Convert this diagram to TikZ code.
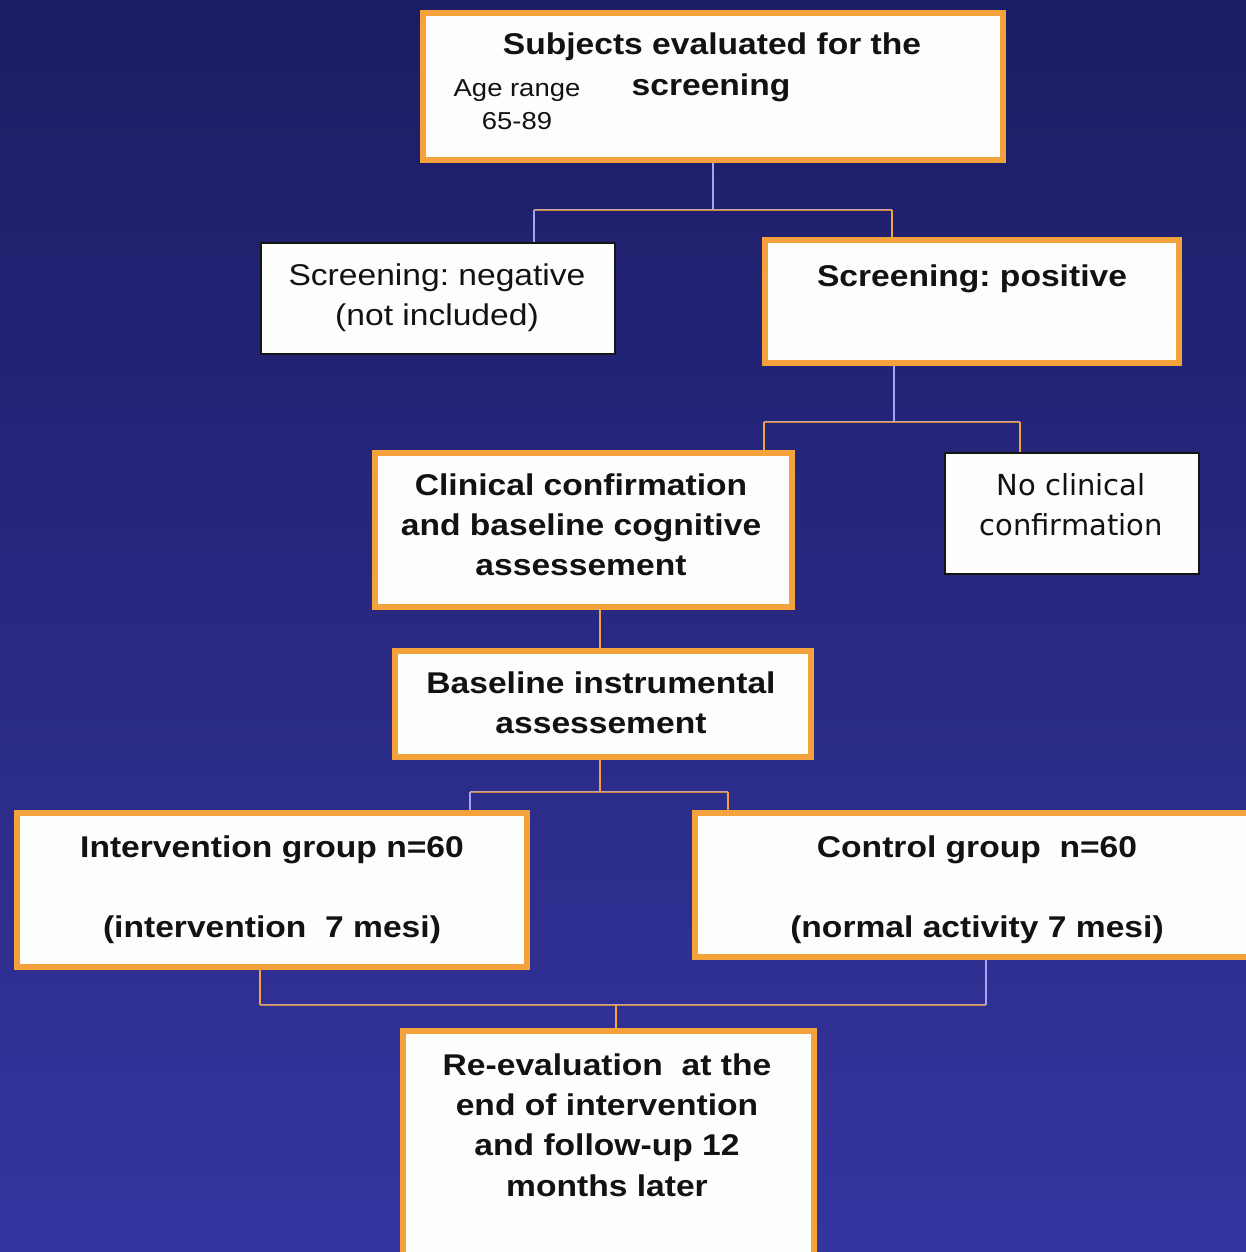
\documentclass[tikz,border=0pt]{standalone}
\usepackage{fontspec}
\setmainfont{Liberation Sans}[FakeStretch=1.12]
\newfontfamily\tahfont{DejaVu Sans}
\frenchspacing
\definecolor{bgtop}{HTML}{1C1C64}
\definecolor{bgbot}{HTML}{3535A0}
\definecolor{orangeC}{HTML}{F4A23C}
\definecolor{lavC}{HTML}{A4A4F2}
\definecolor{boxfill}{HTML}{FDFDFB}
\definecolor{thinC}{HTML}{151515}
\definecolor{txtC}{HTML}{121212}
\tikzset{
  obox/.style={draw=orangeC, line width=6pt, fill=boxfill, rectangle, inner sep=0pt},
  tbox/.style={draw=thinC, line width=2pt, fill=boxfill, rectangle, inner sep=0pt},
  txt/.style={anchor=base, inner sep=0pt, text=txtC},
  bigb/.style={font=\fontsize{30pt}{40pt}\selectfont\bfseries},
  reg/.style={font=\fontsize{30pt}{40pt}\selectfont},
  smallr/.style={font=\fontsize{24.5pt}{30pt}\selectfont},
  tahr/.style={font=\fontsize{29pt}{40pt}\selectfont\tahfont},
  lavline/.style={draw=lavC, line width=2pt},
  orline/.style={draw=orangeC, line width=2.4pt},
  mixline/.style={draw=orangeC!85!black, line width=2.8pt, postaction={draw=lavC!60!orangeC, line width=1pt, transform canvas={yshift=0.8pt}}}
}
\begin{document}
\begin{tikzpicture}[x=1pt,y=-1pt]
\useasboundingbox (0,0) rectangle (1246,1252);
\clip (0,0) rectangle (1246,1252);
\shade[top color=bgtop, bottom color=bgbot] (0,0) rectangle (1246,1252);

% boxes
\node[obox, minimum width=580pt, minimum height=147pt] (n1) at (713,86.5) {};
\node[tbox, minimum width=354pt, minimum height=111pt] (n2) at (438,298.5) {};
\node[obox, minimum width=414pt, minimum height=123pt] (n3) at (972,301.5) {};
\node[obox, minimum width=417pt, minimum height=154pt] (n4) at (583.5,530) {};
\node[tbox, minimum width=254pt, minimum height=121pt] (n5) at (1072,513.5) {};
\node[obox, minimum width=416pt, minimum height=106pt] (n6) at (603,704) {};
\node[obox, minimum width=510pt, minimum height=154pt] (n7) at (272,890) {};
\node[obox, minimum width=572pt, minimum height=144pt] (n8) at (981,885) {};
\node[obox, minimum width=411pt, minimum height=236pt] (n9) at (608.5,1149) {};

% texts
\node[txt, bigb] (t1a) at (712,55) {Subjects evaluated for the};
\node[txt, bigb] (t1b) at (711,96) {screening};
\node[txt, smallr] (t1c) at (517,97) {Age range};
\node[txt, smallr] (t1d) at (517,130) {65-89};

\node[txt, reg] (t2a) at (437,285) {Screening: negative};
\node[txt, reg] (t2b) at (437,325) {(not included)};

\node[txt, bigb] (t3a) at (972,286) {Screening: positive};

\node[txt, bigb] (t4a) at (581,495) {Clinical confirmation};
\node[txt, bigb] (t4b) at (581,535) {and baseline cognitive};
\node[txt, bigb] (t4c) at (581,575) {assessement};

\node[txt, tahr] (t5a) at (1071,495) {No clinical};
\node[txt, tahr] (t5b) at (1071,535) {confirmation};

\node[txt, bigb] (t6a) at (601,693) {Baseline instrumental};
\node[txt, bigb] (t6b) at (601,733) {assessement};

\node[txt, bigb] (t7a) at (272,857) {Intervention group n=60};
\node[txt, bigb] (t7b) at (272,937) {(intervention\ \ 7 mesi)};

\node[txt, bigb] (t8a) at (977,857) {Control group\ \ n=60};
\node[txt, bigb] (t8b) at (977,937) {(normal activity 7 mesi)};

\node[txt, bigb] (t9a) at (607,1075) {Re-evaluation\ \ at the};
\node[txt, bigb] (t9b) at (607,1115) {end of intervention};
\node[txt, bigb] (t9c) at (607,1155) {and follow-up 12};
\node[txt, bigb] (t9d) at (607,1196) {months later};

% junction coordinates
\coordinate (a0) at (713,210);
\coordinate (aL) at (534,210);
\coordinate (aR) at (892,210);
\coordinate (b0) at (894,422);
\coordinate (bL) at (764,422);
\coordinate (bR) at (1020,422);
\coordinate (c0) at (600,630);
\coordinate (d0) at (600,792);
\coordinate (dL) at (470,792);
\coordinate (dR) at (728,792);
\coordinate (eL) at (260,1005);
\coordinate (eR) at (986,1005);
\coordinate (e0) at (616,1005);

% connectors
\draw[lavline] (n1.south) -- (a0);
\draw[mixline] (aL) -- (aR);
\draw[lavline] (aL) -- (aL |- n2.north);
\draw[orline] (aR) -- (aR |- n3.north);

\draw[lavline] (n3.south -| b0) -- (b0);
\draw[mixline] (bL) -- (bR);
\draw[orline] (bL) -- (bL |- n4.north);
\draw[orline] (bR) -- (bR |- n5.north);

\draw[orline] (n4.south -| c0) -- (c0 |- n6.north);

\draw[orline] (n6.south -| d0) -- (d0);
\draw[mixline] (dL) -- (dR);
\draw[lavline] (dL) -- (dL |- n7.north);
\draw[orline] (dR) -- (dR |- n8.north);

\draw[orline] (n7.south -| eL) -- (eL);
\draw[lavline] (n8.south -| eR) -- (eR);
\draw[mixline] (eL) -- (eR);
\draw[orline] (e0) -- (e0 |- n9.north);
\end{tikzpicture}
\end{document}
